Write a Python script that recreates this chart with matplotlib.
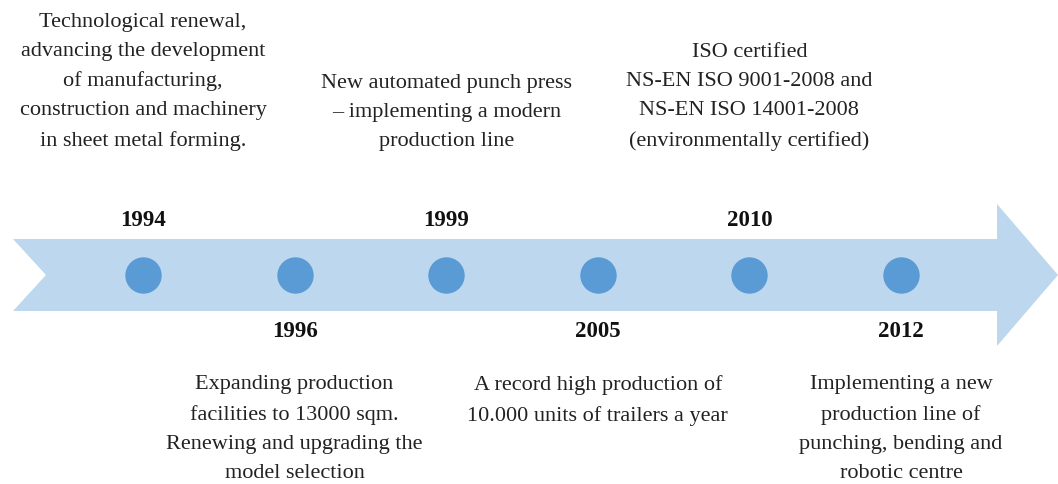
import matplotlib.pyplot as plt
from matplotlib.patches import Polygon

years = ["1994", "1996", "1999", "2005", "2010", "2012"]
above = [True, False, True, False, True, False]
notes = [
    "Technological renewal,\nadvancing the development\nof manufacturing,\nconstruction and machinery\nin sheet metal forming.",
    "Expanding production\nfacilities to 13000 sqm.\nRenewing and upgrading the\nmodel selection",
    "New automated punch press\n\u2013 implementing a modern\nproduction line",
    "A record high production of\n10.000 units of trailers a year",
    "ISO certified\nNS-EN ISO 9001-2008 and\nNS-EN ISO 14001-2008\n(environmentally certified)",
    "Implementing a new\nproduction line of\npunching, bending and\nrobotic centre",
]

ARROW = "#bdd7ee"
DOT = "#5b9bd5"

plt.rcParams["font.family"] = ["Liberation Serif", "DejaVu Serif"]

fig = plt.figure(figsize=(10.58, 4.85), dpi=100)
ax = fig.add_axes([0, 0, 1, 1])
# x in event index units, y in pixels from top
step = 151.6
ax.set_xlim(-143 / step, (1058 - 143) / step)
ax.set_ylim(485, 0)
ax.axis("off")

px = lambda p: (p - 143) / step
yc = 276
arrow = [
    (px(13), 240), (px(997), 240), (px(997), 205), (px(1058), yc),
    (px(997), 347), (px(997), 312), (px(13), 312), (px(46), yc),
]
ax.add_patch(Polygon(arrow, closed=True, fc=ARROW, ec="none"))

xs = list(range(len(years)))
ax.scatter(xs, [yc] * len(xs), s=(35 * 0.72) ** 2, color=DOT, zorder=3)

for i, (yr, up, txt) in enumerate(zip(years, above, notes)):
    if up:
        ax.text(i, 221, yr, ha="center", va="center", fontsize=16.5,
                fontweight="bold", color="#111111")
        ax.text(i, 151, txt, ha="center", va="bottom", fontsize=16,
                linespacing=1.72, color="#222222")
    else:
        ax.text(i, 332, yr, ha="center", va="center", fontsize=16.5,
                fontweight="bold", color="#111111")
        ax.text(i, 375, txt, ha="center", va="top", fontsize=16,
                linespacing=1.72, color="#222222")

fig.savefig("out.png", dpi=100)
